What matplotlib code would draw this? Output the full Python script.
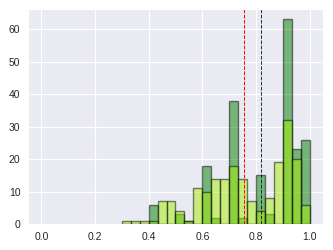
import numpy as np
import matplotlib
matplotlib.use("Agg")
import matplotlib.pyplot as plt
import seaborn as sns

# histogram counts for bins of width 1/30, from 0.3 to 1.0
bin_edges = np.linspace(0.3, 1, 22)
dark_counts = [0, 0, 0, 6, 0, 0, 3, 1, 0, 18, 2, 0, 38, 2, 0, 15, 3, 0, 63, 23, 26]
light_counts = [1, 1, 1, 1, 7, 7, 4, 1, 11, 10, 14, 14, 18, 14, 7, 4, 8, 19, 32, 20, 6]
red_line = 0.755
black_line = 0.818

sns.set_style("darkgrid")
plt.rcParams['font.family'] = ['Liberation Sans', 'DejaVu Sans']

fig, ax = plt.subplots(figsize=(3.33, 2.5), dpi=100)
centers = (bin_edges[:-1] + bin_edges[1:]) / 2
ax.hist(centers, bins=bin_edges, weights=dark_counts, color="green", alpha=0.5,
        edgecolor="black", linewidth=1)
ax.hist(centers, bins=bin_edges, weights=light_counts, color="#a6ee06", alpha=0.5,
        edgecolor="black", linewidth=1)
ax.axvline(red_line, color="red", linestyle="--", linewidth=0.7)
ax.axvline(black_line, color="black", linestyle="--", linewidth=0.7, alpha=0.8)

ax.set_xlim(-0.05, 1.05)
ax.set_xticks([0.0, 0.2, 0.4, 0.6, 0.8, 1.0])
ax.tick_params(labelsize=7.5, pad=2)
plt.subplots_adjust(left=0.084, right=0.970, bottom=0.104, top=0.963)
plt.savefig("out.png")
